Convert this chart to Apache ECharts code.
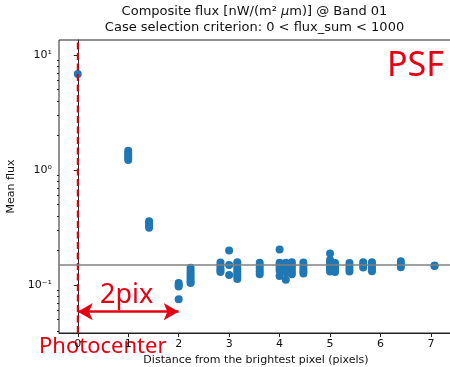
<!DOCTYPE html>
<html>
<head>
<meta charset="utf-8">
<script src="https://cdn.jsdelivr.net/npm/echarts@6.0.0/dist/echarts.min.js"></script>
<style>html,body{margin:0;padding:0;background:#fff}#c{width:450px;height:367px}</style>
</head>
<body>
<div id="c"></div>
<script>
// ---- data ----
const distances = [0, 1, 1.414, 2, 2.236, 2.828, 3, 3.162, 3.606, 4, 4.123, 4.243, 4.472, 5, 5.099, 5.385, 5.657, 5.831, 6.403, 7.071];
const meanFlux = [
  [6.84],
  [1.47, 1.40, 1.34, 1.28, 1.22],
  [0.358, 0.345, 0.33, 0.315],
  [0.104, 0.100, 0.097, 0.075],
  [0.141, 0.133, 0.126, 0.120, 0.114, 0.108, 0.104],
  [0.157, 0.148, 0.140, 0.134, 0.130],
  [0.200, 0.149, 0.122],
  [0.158, 0.149, 0.140, 0.132, 0.125, 0.119, 0.113],
  [0.156, 0.147, 0.139, 0.131, 0.124],
  [0.204, 0.156, 0.148, 0.141, 0.134, 0.120],
  [0.156, 0.146, 0.137, 0.129, 0.111],
  [0.158, 0.148, 0.139, 0.131, 0.124],
  [0.157, 0.148, 0.139, 0.132, 0.126],
  [0.188, 0.165, 0.157, 0.150, 0.143, 0.137, 0.131],
  [0.155, 0.146, 0.138, 0.130],
  [0.155, 0.146, 0.138, 0.131],
  [0.158, 0.150, 0.142],
  [0.158, 0.149, 0.140, 0.132],
  [0.161, 0.152, 0.143],
  [0.148, 0.146]
];
const referenceLevel = 0.1524;      // horizontal gray line
const photocenterX = 0;              // red dashed line
const arrowFrom = 0, arrowTo = 2, arrowLevel = 0.0586;
const xTicks = [0, 1, 2, 3, 4, 5, 6, 7];
const yTicks = [0.1, 1, 10];
const yMinorTicks = [0.04, 0.05, 0.06, 0.07, 0.08, 0.09, 0.2, 0.3, 0.4, 0.5, 0.6, 0.7, 0.8, 0.9, 2, 3, 4, 5, 6, 7, 8, 9];
const X_MIN = -0.372, X_MAX = 7.437, Y_MIN = 0.03825, Y_MAX = 13.5;

// ---- build ----
const points = [];
distances.forEach((d, i) => meanFlux[i].forEach(v => points.push([d, v])));

const RED = '#e60012';
const AX = '#222';
const FONT = 'DejaVu Sans';
const supMap = {'-': '⁻', '0': '⁰', '1': '¹', '2': '²', '3': '³'};
function logLabel(v) {
  const e = String(Math.round(Math.log10(v)));
  return '10' + e.split('').map(c => supMap[c]).join('');
}

const chart = echarts.init(document.getElementById('c'), null, {renderer: 'canvas'});
chart.setOption({
  animation: false,
  backgroundColor: '#fff',
  title: {
    left: 254.5, top: 4, textAlign: 'center', padding: 0,
    text: '{n|Composite flux [nW/(m² }{i|μ}{n|m)] @ Band 01}\n{n|Case selection criterion: 0 < flux_sum < 1000}',
    textStyle: {
      fontFamily: FONT, fontSize: 13, fontWeight: 'normal', color: '#111', lineHeight: 16,
      rich: {
        n: {fontFamily: FONT, fontSize: 13, color: '#111', lineHeight: 16},
        i: {fontFamily: FONT, fontSize: 13, color: '#111', lineHeight: 16, fontStyle: 'italic'}
      }
    }
  },
  grid: {left: 59, top: 40, right: -3, bottom: 34, outerBoundsMode: 'none', containLabel: false,
         show: true, borderColor: AX, borderWidth: 1, backgroundColor: 'transparent'},
  xAxis: {
    type: 'value', min: X_MIN, max: X_MAX,
    splitLine: {show: false},
    axisLine: {show: true, onZero: false, lineStyle: {color: AX, width: 1}},
    axisTick: {show: true, length: 4, lineStyle: {color: AX}, customValues: xTicks},
    axisLabel: {fontFamily: FONT, fontSize: 11, color: '#111', margin: 6, customValues: xTicks},
    name: 'Distance from the brightest pixel (pixels)',
    nameLocation: 'middle', nameGap: 22,
    nameTextStyle: {fontFamily: FONT, fontSize: 11, color: '#111'}
  },
  yAxis: [{
    type: 'log', min: Y_MIN, max: Y_MAX,
    splitLine: {show: false},
    axisLine: {show: true, lineStyle: {color: AX, width: 1}},
    axisTick: {show: true, length: 4, lineStyle: {color: AX}, customValues: yTicks},
    axisLabel: {fontFamily: FONT, fontSize: 11, color: '#111', margin: 7, customValues: yTicks, formatter: logLabel},
    name: 'Mean flux', nameLocation: 'middle', nameRotate: 90, nameGap: 31,
    nameTextStyle: {fontFamily: FONT, fontSize: 11, color: '#111'}
  }, {
    type: 'log', min: Y_MIN, max: Y_MAX, position: 'left',
    splitLine: {show: false},
    axisLine: {show: false},
    axisTick: {show: true, length: 2, lineStyle: {color: AX}, customValues: yMinorTicks},
    axisLabel: {show: false}
  }],
  series: [{
    type: 'scatter',
    data: points,
    symbolSize: 8,
    itemStyle: {color: '#1f77b4', opacity: 1},
    z: 3,
    markLine: {
      silent: true, animation: false,
      symbol: ['none', 'none'],
      label: {show: false},
      lineStyle: {color: '#808080', width: 1.5, type: 'solid'},
      data: [{yAxis: referenceLevel}]
    }
  }, {
    type: 'line',
    data: [[photocenterX, Y_MIN], [photocenterX, Y_MAX]],
    showSymbol: false, symbol: 'none', silent: true,
    lineStyle: {color: RED, width: 2, type: [7, 3.5]},
    z: 4
  }, {
    type: 'line',
    data: [],
    markLine: {
      silent: true, animation: false,
      label: {show: false},
      symbol: ['arrow', 'arrow'],
      symbolSize: [13, 15],
      data: [[
        {coord: [arrowFrom, arrowLevel]},
        {coord: [arrowTo, arrowLevel]}
      ]],
      lineStyle: {color: RED, width: 2.5, type: 'solid'}
    }
  }],
  graphic: [
    {type: 'text', left: 387, top: 49, style: {text: 'PSF', fontFamily: 'Noto Sans', fontSize: 34, fill: RED}},
    {type: 'text', left: 100, top: 282, style: {text: '2pix', fontFamily: 'Noto Sans', fontSize: 27, fill: RED}},
    {type: 'text', left: 39, top: 336, style: {text: 'Photocenter', fontFamily: 'Noto Sans', fontSize: 22, fill: RED}}
  ]
});
</script>
</body>
</html>
